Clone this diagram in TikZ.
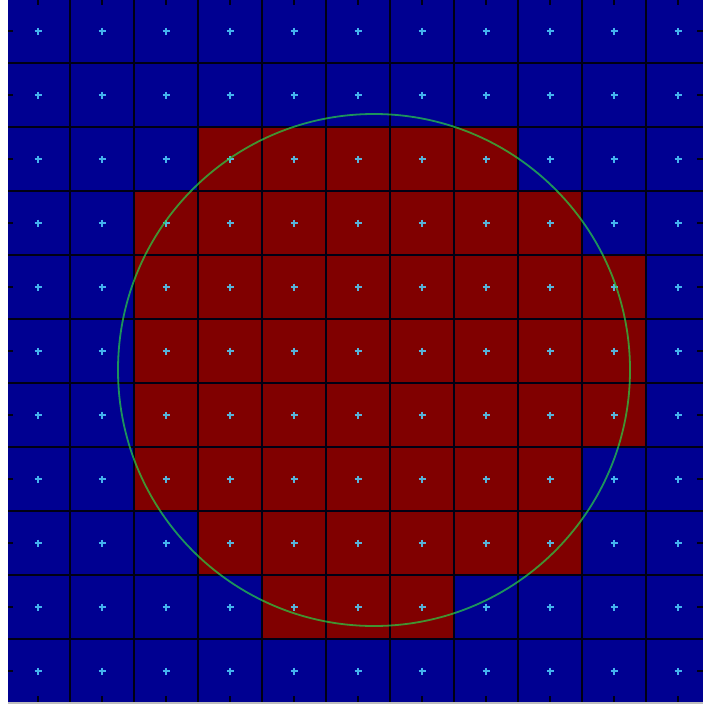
\documentclass[tikz,border=0pt]{standalone}
\definecolor{cellblue}{RGB}{0,0,145}
\definecolor{cellred}{RGB}{128,0,0}
\definecolor{gridline}{RGB}{0,0,20}
\definecolor{crosscol}{RGB}{80,210,255}
\definecolor{circcol}{RGB}{40,210,70}
\definecolor{edgegray}{RGB}{190,190,190}
\tikzset{
  gridln/.style={draw=gridline,line width=1.4pt},
  crossln/.style={draw=crosscol,draw opacity=0.85,line width=1.5pt},
  tickln/.style={draw=gridline,line width=1.3pt},
}
\begin{document}
\begin{tikzpicture}[x=1pt,y=-1pt]
\useasboundingbox (0,0) rectangle (703,704);
\fill[white] (0,0) rectangle (703,704);
\begin{scope}
\clip (8,0) rectangle (703,702);
\fill[cellblue] (0,-2) rectangle (760,760);
% red cells: row / first col / last col
\foreach \r/\a/\b in {2/3/7,3/2/8,4/2/9,5/2/9,6/2/9,7/2/8,8/3/8,9/4/6}{
  \fill[cellred] ({6+64*\a},{-1+64*\r}) rectangle ({6+64*(\b+1)},{-1+64*(\r+1)});
}
\foreach \i in {0,...,11}{
  \draw[gridln] ({6+64*\i},-2) -- ({6+64*\i},710);
  \draw[gridln] (0,{-1+64*\i}) -- (760,{-1+64*\i});
}
\foreach \i in {0,...,10}{
  \foreach \j in {0,...,10}{
    \draw[crossln] ({38+64*\i-3.5},{31+64*\j}) -- ({38+64*\i+3.5},{31+64*\j})
                   ({38+64*\i},{31+64*\j-3.5}) -- ({38+64*\i},{31+64*\j+3.5});
  }
  \draw[tickln] ({38+64*\i},0) -- ({38+64*\i},5);
  \draw[tickln] ({38+64*\i},696) -- ({38+64*\i},702);
  \draw[tickln] (8,{31+64*\i}) -- (13,{31+64*\i});
  \draw[tickln] (697,{31+64*\i}) -- (703,{31+64*\i});
}
\draw[circcol,draw opacity=0.7,line width=1.8pt] (374,370) circle[radius=256];
\end{scope}
\fill[edgegray] (8,702) rectangle (703,704);
\end{tikzpicture}
\end{document}
